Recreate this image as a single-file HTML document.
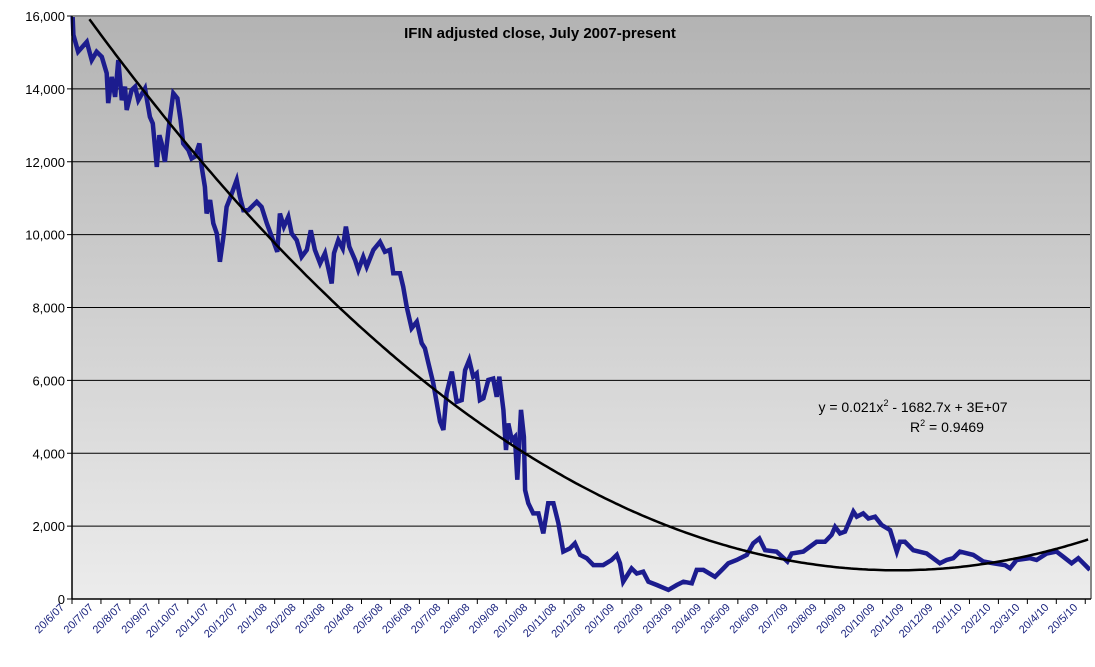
<!DOCTYPE html>
<html><head><meta charset="utf-8"><style>
html,body{margin:0;padding:0;background:#fff;}
svg{display:block;font-family:"Liberation Sans",Arial,sans-serif;}
</style></head><body>
<svg id="chart" width="1095" height="667" viewBox="0 0 1095 667" xmlns="http://www.w3.org/2000/svg">
<defs><linearGradient id="bg" x1="0" y1="0" x2="0" y2="1"><stop offset="0" stop-color="#b3b3b3"/><stop offset="1" stop-color="#ececec"/></linearGradient></defs>
<rect x="72" y="16" width="1018" height="583" fill="url(#bg)"/>
<g id="grid"></g><g id="yaxis"></g><g id="xaxis"></g>
<g id="series"></g>
<line x1="72" y1="16" x2="1090" y2="16" stroke="#888" stroke-width="2"/>
<line x1="1091" y1="16" x2="1091" y2="599" stroke="#888" stroke-width="2"/>
<line x1="72" y1="16" x2="72" y2="599" stroke="#000" stroke-width="1.5"/>
<line x1="72" y1="599" x2="1091" y2="599" stroke="#000" stroke-width="1.5"/>
<text x="540" y="38" text-anchor="middle" font-size="15" font-weight="bold">IFIN adjusted close, July 2007-present</text>
<text x="913" y="412" text-anchor="middle" font-size="14">y = 0.021x<tspan dy="-6" font-size="9">2</tspan><tspan dy="6"> - 1682.7x + 3E+07</tspan></text>
<text x="947" y="432" text-anchor="middle" font-size="14">R<tspan dy="-6" font-size="9">2</tspan><tspan dy="6"> = 0.9469</tspan></text>
</svg>
<script>
const yTicks=[0,2000,4000,6000,8000,10000,12000,14000,16000];
const yTickLabels=["0","2,000","4,000","6,000","8,000","10,000","12,000","14,000","16,000"];
const monthLabels=["20/6/07","20/7/07","20/8/07","20/9/07","20/10/07","20/11/07","20/12/07","20/1/08","20/2/08","20/3/08","20/4/08","20/5/08","20/6/08","20/7/08","20/8/08","20/9/08","20/10/08","20/11/08","20/12/08","20/1/09","20/2/09","20/3/09","20/4/09","20/5/09","20/6/09","20/7/09","20/8/09","20/9/09","20/10/09","20/11/09","20/12/09","20/1/10","20/2/10","20/3/10","20/4/10","20/5/10"];
const months=[0.02,0.05,0.21,0.51,0.68,0.85,1.03,1.20,1.25,1.37,1.49,1.60,1.72,1.83,1.89,2.06,2.18,2.29,2.52,2.69,2.79,2.93,3.02,3.10,3.21,3.33,3.50,3.64,3.75,3.84,4.02,4.13,4.25,4.40,4.48,4.59,4.65,4.77,4.88,5.00,5.11,5.23,5.34,5.48,5.69,5.80,5.92,6.09,6.38,6.55,6.73,6.90,7.09,7.18,7.32,7.47,7.59,7.76,7.93,8.11,8.25,8.39,8.57,8.74,8.89,8.97,9.05,9.20,9.35,9.46,9.58,9.78,9.89,10.06,10.18,10.41,10.64,10.81,10.98,11.10,11.33,11.44,11.56,11.73,11.91,12.08,12.19,12.31,12.48,12.60,12.71,12.83,12.94,13.12,13.29,13.46,13.58,13.72,13.86,13.98,14.09,14.21,14.38,14.55,14.67,14.76,14.90,14.99,15.07,15.19,15.30,15.38,15.51,15.61,15.65,15.76,15.93,16.11,16.28,16.45,16.63,16.80,16.97,17.20,17.37,17.55,17.78,18.01,18.35,18.64,18.82,18.93,19.04,19.22,19.33,19.51,19.73,19.91,20.20,20.60,20.89,21.12,21.41,21.58,21.81,22.21,22.50,22.67,22.96,23.31,23.53,23.74,23.94,24.34,24.71,24.86,25.26,25.72,26.01,26.24,26.36,26.53,26.70,26.99,27.11,27.33,27.51,27.74,27.97,28.26,28.49,28.60,28.77,29.06,29.52,29.98,30.21,30.44,30.67,31.13,31.48,31.82,32.23,32.40,32.63,33.09,33.32,33.67,34.01,34.24,34.53,34.76,35.05,35.16];
const closes=[16000,15480,15020,15290,14790,15020,14880,14430,13610,14330,13780,14790,13690,14060,13420,13970,14060,13690,14010,13230,13050,11860,12730,12500,12000,12870,13880,13740,13140,12500,12320,12090,12140,12500,11860,11310,10580,10950,10310,10030,9255,9940,10760,11040,11500,11040,10670,10670,10900,10760,10310,9940,9530,10580,10220,10490,10030,9850,9390,9580,10120,9580,9210,9490,8940,8660,9490,9850,9620,10220,9670,9300,9030,9390,9120,9580,9800,9530,9580,8940,8940,8570,8020,7430,7610,7020,6880,6470,5920,5370,4870,4640,5640,6240,5410,5460,6280,6560,6100,6190,5460,5510,6010,6050,5550,6100,5190,4090,4820,4360,4450,3270,5190,4450,2990,2630,2350,2350,1800,2630,2630,2080,1300,1390,1530,1210,1120,930,930,1070,1210,980,475,700,840,700,750,475,385,250,385,475,430,800,800,610,840,980,1070,1210,1530,1660,1340,1300,1030,1250,1300,1570,1570,1760,1980,1800,1850,2400,2260,2350,2210,2260,2030,1890,1300,1570,1570,1340,1250,980,1070,1120,1300,1210,1030,980,930,840,1070,1120,1070,1250,1300,1160,980,1120,890,800];
const trendA=19.43, trendH=28.5, trendK=788;

const NS="http://www.w3.org/2000/svg";
const X0=72, MW=28.95, Y0=599, YT=16, YMAX=16000;
const xs=m=>X0+m*MW;
const ys=v=>Y0-(v/YMAX)*(Y0-YT);
function mk(t,a,p){const e=document.createElementNS(NS,t);for(const k in a)e.setAttribute(k,a[k]);p.appendChild(e);return e;}
const grid=document.getElementById('grid'),ya=document.getElementById('yaxis'),xa=document.getElementById('xaxis'),sr=document.getElementById('series');
yTicks.forEach((v,i)=>{
  if(v>0&&v<YMAX){const g=mk('line',{x1:X0,x2:1090,y1:ys(v),y2:ys(v),stroke:'#000','stroke-width':1},grid);
  
  }
  mk('line',{x1:X0-5,x2:X0,y1:ys(v),y2:ys(v),stroke:'#000'},ya);
  const t=mk('text',{x:X0-7,y:ys(v)+5,'text-anchor':'end','font-size':13},ya);
  t.textContent=yTickLabels[i];
  
  
});
monthLabels.forEach((lab,i)=>{
  const x=xs(i);
  mk('line',{x1:x,x2:x,y1:Y0,y2:Y0+5,stroke:'#000'},xa);
  const t=mk('text',{x:x-7,y:Y0+9,'text-anchor':'end','font-size':11,fill:'#1a237e',transform:`rotate(-45 ${x-7} ${Y0+9})`},xa);
  t.textContent=lab;
  
  
});
let d='';
months.forEach((m,i)=>{d+=(i?'L':'M')+xs(m).toFixed(1)+' '+ys(closes[i]).toFixed(1);});
const line=mk('path',{d:d,fill:'none',stroke:'#1c1c8e','stroke-width':4.5,'stroke-linejoin':'miter'},sr);


let td='';let first=true;
for(let m=0;m<=35.2;m+=0.1){const v=trendA*(m-trendH)*(m-trendH)+trendK;if(v>YMAX)continue;td+=(first?'M':'L')+xs(m).toFixed(1)+' '+ys(v).toFixed(1);first=false;}
const tl=mk('path',{d:td,fill:'none',stroke:'#000','stroke-width':2.5},sr);


</script>
</body></html>
